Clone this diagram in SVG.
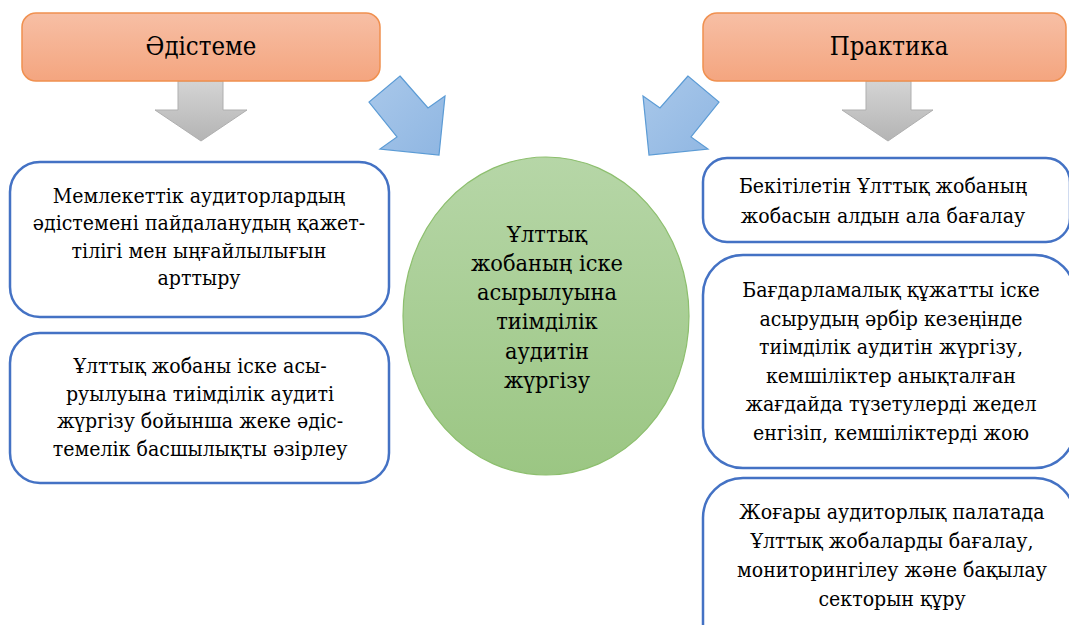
<svg xmlns="http://www.w3.org/2000/svg" width="1069" height="625" viewBox="0 0 1069 625">
<defs>
<linearGradient id="gHead" x1="0" y1="0" x2="0" y2="1"><stop offset="0" stop-color="#F7BFA5"/><stop offset="1" stop-color="#F4A57F"/></linearGradient>
<linearGradient id="gGray" x1="0" y1="0" x2="0" y2="1"><stop offset="0" stop-color="#D4D4D4"/><stop offset="1" stop-color="#B4B4B4"/></linearGradient>
<linearGradient id="gBlue" x1="0" y1="0" x2="1" y2="1"><stop offset="0" stop-color="#A9C8EA"/><stop offset="1" stop-color="#8FB6E2"/></linearGradient>
<linearGradient id="gGreen" x1="0" y1="0" x2="0" y2="1"><stop offset="0" stop-color="#B6D6A7"/><stop offset="1" stop-color="#9BC683"/></linearGradient>
<style>
.head{fill:url(#gHead);stroke:#F0904F;stroke-width:1.5}
.gray{fill:url(#gGray);stroke:#AFAFAF;stroke-width:1}
.blue{fill:url(#gBlue);stroke:#5B9BD5;stroke-width:1.2}
.box{fill:#FFFFFF;stroke:#4472C4;stroke-width:2.5}
.ell{fill:url(#gGreen);stroke:#8DBF6E;stroke-width:1.2}
text{font-family:'DejaVu Serif','Liberation Serif',serif;fill:#000;text-anchor:middle}
.ht{font-size:25.5px}
.bt{font-size:20px}
.ct{font-size:22px}
</style>
</defs>
<g id="connectors">
<polygon class="gray" points="178,81 223,81 223,110 247,110 201,141 155,110 178,110"/>
<polygon class="gray" points="866,81 911,81 911,110 933,110 888,141 842,110 866,110"/>
<polygon class="blue" points="400,76 428,108 445,96 439,155 380,149 397,137 369,102"/>
<polygon class="blue" points="688,76 660,108 643,96 649,155 708,149 691,137 719,102"/>
</g>
<g id="node-method">
<rect class="head" x="22" y="13" width="358" height="68" rx="14"/>
<g transform="translate(201 0) scale(0.9 1)"><text class="ht" x="0" y="55">Әдістеме</text></g>
</g>
<g id="node-practice">
<rect class="head" x="703" y="13" width="363" height="68" rx="14"/>
<g transform="translate(889 0) scale(0.9 1)"><text class="ht" x="0" y="55">Практика</text></g>
</g>
<g id="node-center">
<ellipse class="ell" cx="546" cy="316" rx="143" ry="159"/>
<g transform="translate(547 0) scale(0.955 1)">
<text class="ct" x="0" y="242">Ұлттық</text>
<text class="ct" x="0" y="271">жобаның іске</text>
<text class="ct" x="0" y="300">асырылуына</text>
<text class="ct" x="0" y="329.5">тиімділік</text>
<text class="ct" x="0" y="359">аудитін</text>
<text class="ct" x="0" y="388">жүргізу</text>
</g>
</g>
<g id="node-left1">
<rect class="box" x="10" y="162" width="379" height="155" rx="30"/>
<g transform="translate(199 0) scale(0.95 1)">
<text class="bt" x="0" y="203">Мемлекеттік аудиторлардың</text>
<text class="bt" x="0" y="230.5">әдістемені пайдаланудың қажет-</text>
<text class="bt" x="0" y="258">тілігі мен ыңғайлылығын</text>
<text class="bt" x="0" y="285.5">арттыру</text>
</g>
</g>
<g id="node-left2">
<rect class="box" x="10" y="333" width="379" height="150" rx="30"/>
<g transform="translate(200 0) scale(0.95 1)">
<text class="bt" x="0" y="373.5">Ұлттық жобаны іске асы-</text>
<text class="bt" x="0" y="401">руылуына тиімділік аудиті</text>
<text class="bt" x="0" y="428.5">жүргізу бойынша жеке әдіс-</text>
<text class="bt" x="0" y="456">темелік басшылықты әзірлеу</text>
</g>
</g>
<g id="node-right1">
<rect class="box" x="703" y="158" width="367" height="84" rx="24"/>
<g transform="translate(883 0) scale(0.95 1)">
<text class="bt" x="0" y="193">Бекітілетін Ұлттық жобаның</text>
<text class="bt" x="0" y="223">жобасын алдын ала бағалау</text>
</g>
</g>
<g id="node-right2">
<rect class="box" x="703" y="255" width="372" height="213" rx="40"/>
<g transform="translate(891 0) scale(0.95 1)">
<text class="bt" x="0" y="297">Бағдарламалық құжатты іске</text>
<text class="bt" x="0" y="325.6">асырудың әрбір кезеңінде</text>
<text class="bt" x="0" y="354.2">тиімділік аудитін жүргізу,</text>
<text class="bt" x="0" y="382.8">кемшіліктер анықталған</text>
<text class="bt" x="0" y="411.4">жағдайда түзетулерді жедел</text>
<text class="bt" x="0" y="440">енгізіп, кемшіліктерді жою</text>
</g>
</g>
<g id="node-right3">
<rect class="box" x="703" y="478" width="372" height="190" rx="40"/>
<g transform="translate(892 0) scale(0.95 1)">
<text class="bt" x="0" y="519">Жоғары аудиторлық палатада</text>
<text class="bt" x="0" y="548">Ұлттық жобаларды бағалау,</text>
<text class="bt" x="0" y="577">мониторингілеу және бақылау</text>
<text class="bt" x="0" y="606">секторын құру</text>
</g>
</g>
</svg>
